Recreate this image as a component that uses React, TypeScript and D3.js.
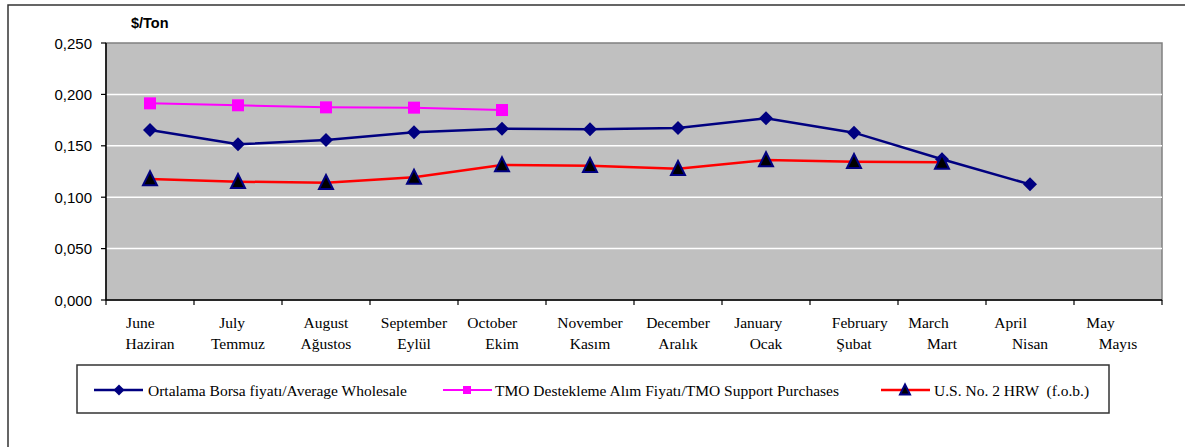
import React from "react";
import * as d3 from "d3";

const monthsEn = ["June     ", "July   ", "August", "September", "October     ", "November", "December", "January    ", "   February", "March       ", "April          ", "May         "];
const monthsTr = ["Haziran", "Temmuz", "Ağustos", "Eylül", "Ekim", "Kasım", "Aralık", "Ocak", "Şubat", "Mart", "Nisan", "Mayıs"];
const wholesale = [0.1654, 0.1515, 0.1556, 0.1631, 0.1667, 0.166, 0.1673, 0.1767, 0.1628, 0.1369, 0.1125, null];
const tmo = [0.1913, 0.1894, 0.1874, 0.1871, 0.1848, null, null, null, null, null, null, null];
const hrw = [0.1177, 0.1151, 0.1141, 0.1193, 0.1313, 0.1307, 0.1277, 0.1362, 0.1345, 0.1339, null, null];
const yTicks = [0, 0.05, 0.1, 0.15, 0.2, 0.25];
const legendLabels = ["Ortalama Borsa fiyatı/Average Wholesale", "TMO Destekleme Alım Fiyatı/TMO Support Purchases", "U.S. No. 2 HRW  (f.o.b.)"];

const W = 1185, H = 447;
const PL = 106, PR = 1162, PT = 43, PB = 300;

const serifStyle: React.CSSProperties = { fontFamily: "'Liberation Serif', 'DejaVu Serif', serif", fontSize: "15.5px", whiteSpace: "pre" };
const sansStyle: React.CSSProperties = { fontFamily: "'Liberation Sans', Arial, sans-serif" };

export default function App() {
  const x = d3.scaleBand<number>().domain(d3.range(12)).range([PL, PR]).padding(0);
  const cx = (i: number) => (x(i) as number) + x.bandwidth() / 2;
  const y = d3.scaleLinear().domain([0, 0.25]).range([PB, PT]);
  const fmt = (v: number) => d3.format(".3f")(v).replace(".", ",");

  const mkLine = (arr: (number | null)[]) =>
    d3.line<number | null>().defined((d) => d !== null).x((_, i) => cx(i)).y((d) => y(d as number))(arr) || "";

  const diamond = (px: number, py: number, r: number) => `M${px},${py - r}L${px + r},${py}L${px},${py + r}L${px - r},${py}Z`;
  const triangle = (px: number, py: number, s: number) => `M${px},${py - s * 0.55}L${px + s / 2},${py + s * 0.45}L${px - s / 2},${py + s * 0.45}Z`;

  return (
    <svg width={W} height={H} style={{ position: "absolute", left: 0, top: 0, background: "#fff" }}>
      <rect x={8} y={5} width={1300} height={600} fill="#fff" stroke="#333" strokeWidth={1.5} />
      <text x={131} y={28} style={{ ...sansStyle, fontWeight: "bold", fontSize: "14.5px" }} fill="#000">$/Ton</text>
      <rect x={PL} y={PT} width={PR - PL} height={PB - PT} fill="#c0c0c0" stroke="#808080" strokeWidth={1.5} />
      {yTicks.filter((t) => t > 0 && t < 0.25).map((t) => (
        <line key={t} x1={PL} x2={PR} y1={y(t)} y2={y(t)} stroke="#fff" strokeWidth={1.5} />
      ))}
      <line x1={PL} x2={PL} y1={PT} y2={PB} stroke="#000" strokeWidth={1.5} />
      <line x1={PL} x2={PR} y1={PB} y2={PB} stroke="#000" strokeWidth={1.5} />
      {yTicks.map((t) => (
        <g key={t}>
          <line x1={PL - 5} x2={PL} y1={y(t)} y2={y(t)} stroke="#000" strokeWidth={1.2} />
          <text x={92} y={y(t) + 5.5} textAnchor="end" style={{ ...sansStyle, fontSize: "15px" }} fill="#000">{fmt(t)}</text>
        </g>
      ))}
      {d3.range(13).map((i) => {
        const px = i < 12 ? (x(i) as number) : PR;
        return <line key={i} x1={px} x2={px} y1={PB} y2={PB + 5} stroke="#000" strokeWidth={1.2} />;
      })}
      {monthsEn.map((m, i) => (
        <g key={i}>
          <text x={cx(i)} y={328} textAnchor="middle" fill="#000" style={serifStyle} xmlSpace="preserve">{m}</text>
          <text x={cx(i)} y={349} textAnchor="middle" fill="#000" style={serifStyle} xmlSpace="preserve">{monthsTr[i]}</text>
        </g>
      ))}
      <path d={mkLine(wholesale)} fill="none" stroke="#000080" strokeWidth={2.5} />
      <path d={mkLine(tmo)} fill="none" stroke="#ff00ff" strokeWidth={2} />
      <path d={mkLine(hrw)} fill="none" stroke="#ff0000" strokeWidth={2.5} />
      {wholesale.map((v, i) => v === null ? null : (
        <path key={"w" + i} d={diamond(cx(i), y(v), 7)} fill="#000080" />
      ))}
      {tmo.map((v, i) => v === null ? null : (
        <rect key={"t" + i} x={cx(i) - 6} y={y(v) - 6} width={12} height={12} fill="#ff00ff" />
      ))}
      {hrw.map((v, i) => v === null ? null : (
        <path key={"h" + i} d={triangle(cx(i), y(v), 14)} fill="#000" stroke="#000080" strokeWidth={2} strokeLinejoin="miter" />
      ))}
      <rect x={77} y={365} width={1032} height={48} fill="#fff" stroke="#333" strokeWidth={1.5} />
      <line x1={94} x2={143} y1={390} y2={390} stroke="#000080" strokeWidth={2.5} />
      <path d={diamond(119, 390, 5.5)} fill="#000080" />
      <text x={148} y={395.5} fill="#000" style={serifStyle} xmlSpace="preserve">{legendLabels[0]}</text>
      <line x1={443} x2={492} y1={390} y2={390} stroke="#ff00ff" strokeWidth={2} />
      <rect x={463} y={386} width={8} height={8} fill="#ff00ff" />
      <text x={495} y={395.5} fill="#000" style={serifStyle} xmlSpace="preserve">{legendLabels[1]}</text>
      <line x1={881} x2={930} y1={390} y2={390} stroke="#ff0000" strokeWidth={2.5} />
      <path d={triangle(905, 390, 10)} fill="#000" stroke="#000080" strokeWidth={2} />
      <text x={934} y={395.5} fill="#000" style={serifStyle} xmlSpace="preserve">{legendLabels[2]}</text>
    </svg>
  );
}
